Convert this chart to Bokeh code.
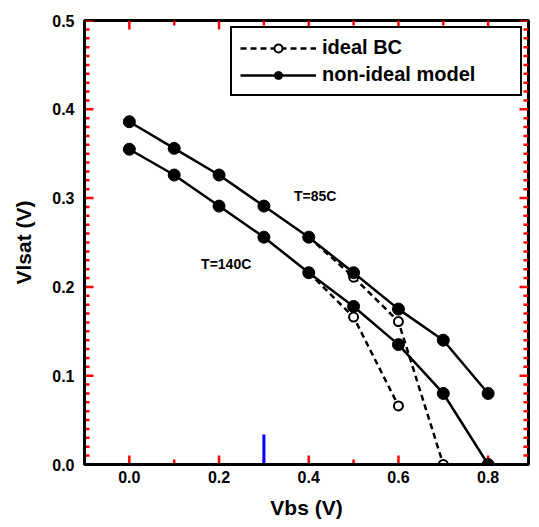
from bokeh.plotting import figure
from bokeh.models import (FixedTicker, LinearAxis, Range1d, Legend, LegendItem,
                          NumeralTickFormatter, Label)
from bokeh.embed import file_html
from bokeh.resources import INLINE

vbs = [0.0, 0.1, 0.2, 0.3, 0.4, 0.5, 0.6, 0.7, 0.8]
nonideal_85 = [0.386, 0.356, 0.326, 0.291, 0.256, 0.216, 0.175, 0.140, 0.080]
nonideal_140 = [0.355, 0.326, 0.291, 0.256, 0.216, 0.178, 0.135, 0.080, 0.0]
ideal_85_x = [0.4, 0.5, 0.6, 0.7]
ideal_85 = [0.256, 0.211, 0.161, 0.0]
ideal_140_x = [0.4, 0.5, 0.6]
ideal_140 = [0.216, 0.166, 0.066]
xticks = [0.0, 0.2, 0.4, 0.6, 0.8]
xminor = [0.1, 0.3, 0.5, 0.7]
yticks = [0.0, 0.1, 0.2, 0.3, 0.4, 0.5]

X0, X1 = -0.1, 0.89
Y0, Y1 = 0.0, 0.5
FW, FH = 444, 444
yminor = [float(round(k * 0.01, 3)) for k in range(1, 50) if k % 10 != 0]

FONT = "Liberation Sans"

p = figure(width=539, height=527, output_backend="svg", toolbar_location=None,
           x_range=Range1d(X0, X1), y_range=Range1d(Y0, Y1),
           min_border_left=84, min_border_right=11, min_border_top=20, min_border_bottom=63,
           frame_width=FW, frame_height=FH, x_axis_location=None, y_axis_location=None)
p.grid.visible = False
p.outline_line_color = "black"
p.outline_line_width = 3

def style_axis(ax):
    ax.axis_line_width = 3
    ax.major_tick_in = 0
    ax.major_tick_out = 0
    ax.minor_tick_in = 0
    ax.minor_tick_out = 0
    ax.major_label_text_font = FONT
    ax.major_label_text_font_style = "bold"
    ax.major_label_text_font_size = "16px"
    ax.major_label_text_color = "black"
    ax.axis_label_text_font = FONT
    ax.axis_label_text_font_style = "bold"
    ax.axis_label_text_font_size = "21px"
    ax.axis_label_text_color = "black"
    ax.formatter = NumeralTickFormatter(format="0.0")

xb = LinearAxis(ticker=FixedTicker(ticks=xticks), axis_label="Vbs (V)")
style_axis(xb)
xb.major_label_standoff = 6
xb.axis_label_standoff = 10
yl = LinearAxis(ticker=FixedTicker(ticks=yticks), axis_label="Vlsat (V)")
style_axis(yl)
yl.major_label_standoff = 10
yl.axis_label_standoff = 14
p.add_layout(xb, "below")
p.add_layout(yl, "left")

# inward tick marks on all four sides
dx = (X1 - X0) / FW
dy = (Y1 - Y0) / FH
vx0, vy0, vx1, vy1 = [], [], [], []
for ticks_, ln in ((xticks, 9), (xminor, 5)):
    for t in ticks_:
        vx0 += [t, t]
        vx1 += [t, t]
        vy0 += [Y0, Y1]
        vy1 += [Y0 + ln * dy, Y1 - ln * dy]
for ticks_, ln in ((yticks, 9), (yminor, 5)):
    for t in ticks_:
        vx0 += [X0, X1]
        vx1 += [X0 + ln * dx, X1 - ln * dx]
        vy0 += [t, t]
        vy1 += [t, t]
p.segment(x0=vx0, y0=vy0, x1=vx1, y1=vy1, line_color="red", line_width=2.5)
p.segment(x0=[0.3], y0=[0.0], x1=[0.3], y1=[30 * dy], line_color="blue", line_width=3)

# ideal BC (dashed, open circles)
d1 = p.line(ideal_85_x, ideal_85, line_color="black", line_width=2.5, line_dash="6 4")
d2 = p.line(ideal_140_x, ideal_140, line_color="black", line_width=2.5, line_dash="6 4")
o1 = p.scatter(ideal_85_x[1:], ideal_85[1:], size=9, marker="circle", fill_color="white",
               line_color="black", line_width=2)
o2 = p.scatter(ideal_140_x[1:], ideal_140[1:], size=9, marker="circle", fill_color="white",
               line_color="black", line_width=2)

# non-ideal model (solid, filled circles)
s1 = p.line(vbs, nonideal_85, line_color="black", line_width=2.5)
s2 = p.line(vbs, nonideal_140, line_color="black", line_width=2.5)
f1 = p.scatter(vbs, nonideal_85, size=12, marker="circle", fill_color="black", line_color="black")
f2 = p.scatter(vbs, nonideal_140, size=12, marker="circle", fill_color="black", line_color="black")

legend = Legend(items=[LegendItem(label="ideal BC", renderers=[d1, o1]),
                       LegendItem(label="non-ideal model", renderers=[s1, f1])],
                location="top_right")
legend.border_line_color = "black"
legend.border_line_alpha = 1.0
legend.border_line_width = 2.5
legend.background_fill_alpha = 1.0
legend.label_text_font = FONT
legend.label_text_font_style = "bold"
legend.label_text_font_size = "20px"
legend.label_text_color = "black"
legend.glyph_width = 76
legend.glyph_height = 20
legend.label_height = 20
legend.label_standoff = 6
legend.spacing = 4
legend.padding = 8
legend.margin = 6
legend.label_width = 190
p.add_layout(legend)

p.add_layout(Label(x=0.367, y=0.302, text="T=85C", text_font=FONT, text_font_style="bold",
                   text_font_size="14px", text_baseline="middle", text_color="black"))
p.add_layout(Label(x=0.16, y=0.226, text="T=140C", text_font=FONT, text_font_style="bold",
                   text_font_size="14px", text_baseline="middle", text_color="black"))

open("out.html", "w").write(file_html(p, INLINE))
